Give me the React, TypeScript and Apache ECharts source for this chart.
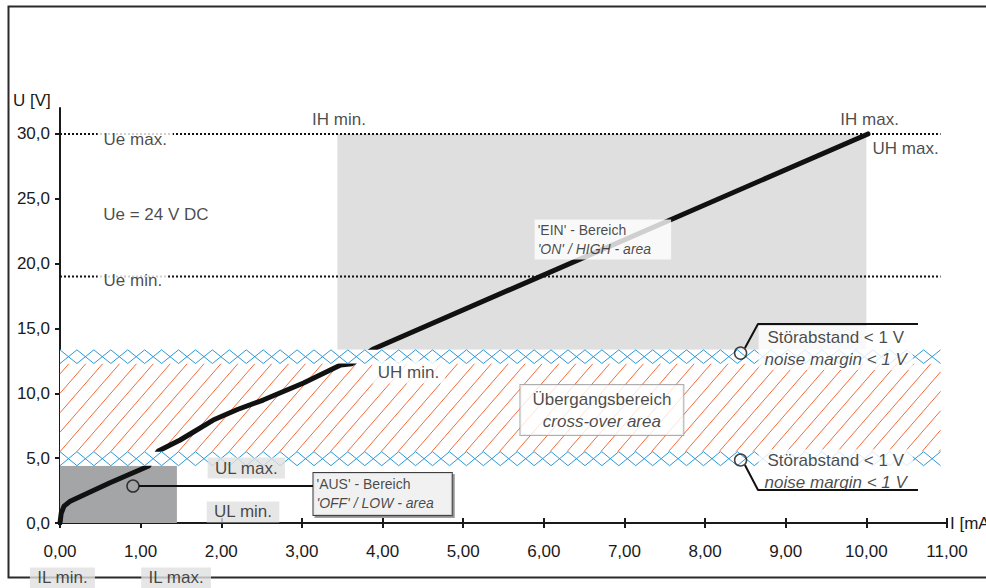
import React, { useEffect, useRef } from 'react';
import * as echarts from 'echarts';

// ---------- data ----------
const xTicks = [0, 1, 2, 3, 4, 5, 6, 7, 8, 9, 10, 11];
const yTicks = [0, 5, 10, 15, 20, 25, 30];

// characteristic curve U(I)
const curveI = [0, 0.015, 0.05, 0.12, 0.62, 1.1, 1.18, 1.22, 1.49, 1.9, 2.2, 2.52, 3.02, 3.48, 3.62, 3.88, 10.02];
const curveU = [0, 0.75, 1.3, 1.65, 3.1, 4.4, 5.2, 5.55, 6.4, 7.94, 8.75, 9.48, 10.79, 12.18, 12.28, 13.4, 30.0];

// regions
const onAreaI = [3.44, 10.0];
const onAreaU = [13.35, 30.0];
const offAreaI = [0, 1.45];
const offAreaU = [0, 4.42];
const bandI = [0, 10.92];
const noiseLowU = [4.42, 5.5];
const crossOverU = [5.5, 12.3];
const noiseHighU = [12.3, 13.35];

// supply voltage limits (Ue max., Ue min.)
const ueLevels = [30, 19];

// annotation markers (circles) and leader lines
const markerI = [0.905, 8.44, 8.44];
const markerU = [2.85, 13.1, 4.86];
const leaderAus = [[0.98, 2.85], [3.137, 2.85]];
const leaderNoiseHigh = [[8.494, 13.49], [8.656, 15.34], [10.64, 15.34]];
const leaderNoiseLow = [[8.494, 4.47], [8.656, 2.54], [10.64, 2.54]];

// text annotations
const notes = [
  { text: 'Ue max.', i: 0.46, u: 29.6, kind: 'whiteLeft' },
  { text: 'Ue = 24 V DC', i: 0.53, u: 23.8, kind: 'plainLeft' },
  { text: 'Ue min.', i: 0.46, u: 18.7, kind: 'whiteLeft' },
  { text: 'IH min.', i: 3.46, u: 31.1, kind: 'plainCenter' },
  { text: 'IH max.', i: 10.04, u: 31.1, kind: 'plainCenter' },
  { text: 'UH max.', i: 10.07, u: 28.9, kind: 'plainLeft' },
  { text: 'UH min.', i: 3.86, u: 11.64, kind: 'whiteLeft' },
  { text: "'EIN' - Bereich\n'ON' / HIGH - area", i: 5.88, u: 21.86, kind: 'onBox' },
  { text: 'Übergangsbereich\ncross-over area', i: 6.72, u: 8.71, kind: 'crossBox' },
  { text: "'AUS' - Bereich\n'OFF' / LOW - area", i: 3.137, u: 2.24, kind: 'offBox' },
  { text: 'Störabstand < 1 V\nnoise margin < 1 V', i: 9.62, u: 13.49, kind: 'noise' },
  { text: 'Störabstand < 1 V\nnoise margin < 1 V', i: 9.62, u: 4.0, kind: 'noise' },
  { text: 'UL max.', i: 2.31, u: 4.24, kind: 'gray' },
  { text: 'UL min.', i: 2.27, u: 0.85, kind: 'gray' },
  { text: 'IL min.', i: 0.03, u: -4.24, kind: 'gray' },
  { text: 'IL max.', i: 1.44, u: -4.24, kind: 'gray' },
];

// ---------- styles ----------
const FONT = "'Liberation Sans', Arial, Helvetica, sans-serif";
const BLUE = '#2b9ad6';
const ORANGE = '#f26b3a';
const INK = '#1a1a1a';
const W = 986;
const H = 588;

function renderRegion(params: any, api: any) {
  const i0 = api.value(0), i1 = api.value(1), u0 = api.value(2), u1 = api.value(3), kind = api.value(4);
  const a = api.coord([i0, u1]);
  const b = api.coord([i1, u0]);
  const x0 = a[0], y0 = a[1], x1 = b[0], y1 = b[1];
  const children: any[] = [];
  if (kind === 2 || kind === 3) {
    children.push({
      type: 'rect',
      shape: { x: x0, y: y0, width: x1 - x0, height: y1 - y0 },
      style: { fill: kind === 2 ? '#dfdfdf' : '#a3a5a7' },
    });
    return { type: 'group', children };
  }
  children.push({
    type: 'rect',
    shape: { x: x0, y: y0, width: x1 - x0, height: y1 - y0 },
    style: { fill: '#ffffff' },
  });
  if (kind === 0) {
    const n = Math.max(1, Math.round((x1 - x0) / 16.9));
    const w = (x1 - x0) / n;
    const pa: number[][] = [];
    const pb: number[][] = [];
    for (let k = 0; k <= n; k++) {
      const x = x0 + k * w;
      pa.push([x, k % 2 ? y1 : y0]);
      pb.push([x, k % 2 ? y0 : y1]);
    }
    children.push({ type: 'polyline', shape: { points: pa }, style: { stroke: BLUE, lineWidth: 1, fill: null } });
    children.push({ type: 'polyline', shape: { points: pb }, style: { stroke: BLUE, lineWidth: 1, fill: null } });
  } else {
    const m = 1.15;
    const s = 16.9;
    const hh = y1 - y0;
    const run = hh / m;
    for (let xb = x0 - Math.ceil(run / s) * s; xb < x1; xb += s) {
      let sx = xb, sy = y1, ex = xb + run, ey = y0;
      if (sx < x0) { sy = y1 - (x0 - xb) * m; sx = x0; }
      if (ex > x1) { ey = y1 - (x1 - xb) * m; ex = x1; }
      if (ex > sx) {
        children.push({
          type: 'line',
          shape: { x1: sx, y1: sy, x2: ex, y2: ey },
          style: { stroke: ORANGE, lineWidth: 1 },
        });
      }
    }
  }
  return { type: 'group', children };
}

function noteLabel(n: { text: string; kind: string }) {
  const lines = n.text.split('\n');
  const base: any = { show: true, fontFamily: FONT, fontSize: 17, color: INK, distance: 0 };
  if (lines.length === 2) {
    const fs = n.kind === 'onBox' || n.kind === 'offBox' ? 14 : 17;
    const lh = fs === 14 ? 19 : 22;
    const al = n.kind === 'crossBox' || n.kind === 'noise' ? 'center' : 'left';
    base.formatter = `{a|${lines[0]}}\n{b|${lines[1]}}`;
    base.rich = {
      a: { fontFamily: FONT, fontSize: fs, lineHeight: lh, color: INK, align: al },
      b: { fontFamily: FONT, fontSize: fs, lineHeight: lh, color: INK, fontStyle: 'italic', align: al },
    };
  } else {
    base.formatter = lines[0];
    base.lineHeight = 19;
  }
  switch (n.kind) {
    case 'whiteLeft':
      return { ...base, position: 'right', backgroundColor: '#fff', padding: [2, 6] };
    case 'plainLeft':
      return { ...base, position: 'right' };
    case 'plainCenter':
      return { ...base, position: 'inside' };
    case 'gray':
      return { ...base, position: 'inside', backgroundColor: '#e0e0e0', padding: [1, 7] };
    case 'onBox':
      return { ...base, position: 'right', backgroundColor: '#fff', padding: [1, 20, 1, 3] };
    case 'offBox':
      return {
        ...base, position: 'right', backgroundColor: '#fff', padding: [2, 18, 2, 3],
        borderColor: '#111', borderWidth: 1, shadowColor: '#8a8a8a', shadowOffsetX: 2, shadowOffsetY: 2, shadowBlur: 0,
      };
    case 'crossBox':
      return { ...base, position: 'inside', backgroundColor: '#fff', padding: [3, 12], borderColor: '#9a9a9a', borderWidth: 1 };
    case 'noise':
      return { ...base, position: 'inside', backgroundColor: '#fff', padding: [0, 6] };
    default:
      return base;
  }
}

const fmt = (d: number) => (v: number) => v.toFixed(d).replace('.', ',');

export default function App() {
  const ref = useRef<HTMLDivElement>(null);

  useEffect(() => {
    if (!ref.current) return;
    document.documentElement.style.overflow = 'hidden';
    document.body.style.margin = '0';
    document.body.style.overflow = 'hidden';
    const chart = echarts.init(ref.current, undefined, { renderer: 'svg', width: W, height: H });

    const tickStyle = { color: INK, width: 2 };
    const series: any[] = [
      {
        type: 'custom', name: 'areas', z: 1, renderItem: renderRegion, encode: { x: [0, 1], y: [2, 3] },
        data: [
          [onAreaI[0], onAreaI[1], onAreaU[0], onAreaU[1], 2],
          [offAreaI[0], offAreaI[1], offAreaU[0], offAreaU[1], 3],
        ],
        silent: true,
      },
      {
        type: 'custom', name: 'crossover', z: 2, renderItem: renderRegion, encode: { x: [0, 1], y: [2, 3] },
        data: [[bandI[0], bandI[1], crossOverU[0], crossOverU[1], 1]],
        silent: true,
      },
      {
        type: 'line', name: 'curve', z: 3, symbol: 'none', smooth: false,
        data: curveI.map((v, k) => [v, curveU[k]]),
        lineStyle: { color: '#111', width: 5, cap: 'round', join: 'round' },
        silent: true,
      },
      {
        type: 'custom', name: 'noise', z: 4, renderItem: renderRegion, encode: { x: [0, 1], y: [2, 3] },
        data: [
          [bandI[0], bandI[1], noiseLowU[0], noiseLowU[1], 0],
          [bandI[0], bandI[1], noiseHighU[0], noiseHighU[1], 0],
        ],
        silent: true,
      },
      ...ueLevels.map((u) => ({
        type: 'line', z: 5, symbol: 'none', silent: true,
        data: [[bandI[0], u], [bandI[1], u]],
        lineStyle: { color: '#111', width: 2, type: [2, 2] },
      })),
      {
        type: 'scatter', name: 'notes', z: 8, symbol: 'circle', symbolSize: 1, clip: false, silent: true,
        itemStyle: { color: 'rgba(0,0,0,0)' },
        data: notes.map((n) => ({ value: [n.i, n.u], label: noteLabel(n) })),
      },
      ...[leaderAus, leaderNoiseHigh, leaderNoiseLow].map((d) => ({
        type: 'line', z: 9, symbol: 'none', silent: true, data: d,
        lineStyle: { color: '#111', width: 2 },
      })),
      {
        type: 'scatter', name: 'markers', z: 9, symbol: 'circle', symbolSize: 12, clip: false, silent: true,
        itemStyle: { color: 'rgba(0,0,0,0)', borderColor: '#111', borderWidth: 1.5 },
        data: markerI.map((v, k) => [v, markerU[k]]),
      },
    ];

    chart.setOption({
      animation: false,
      backgroundColor: '#ffffff',
      textStyle: { fontFamily: FONT },
      grid: { left: 60, right: 39, top: 108, bottom: 65, containLabel: false, outerBoundsMode: 'none' },
      xAxis: [
        {
          type: 'value', min: 0, max: 11, interval: 1, position: 'bottom',
          name: 'I [mA]', nameLocation: 'end', nameGap: 3,
          nameTextStyle: { fontSize: 17, color: INK, fontFamily: FONT, padding: [12, 0, 0, 0] },
          axisLine: { show: true, onZero: false, lineStyle: tickStyle },
          axisTick: { show: true, inside: false, length: 5, lineStyle: tickStyle, customValues: xTicks },
          axisLabel: { fontSize: 17, color: INK, fontFamily: FONT, margin: 20, formatter: fmt(2), customValues: xTicks },
          splitLine: { show: false },
        },
        {
          type: 'value', min: 0, max: 11, interval: 1, position: 'bottom', offset: 0,
          axisLine: { show: false, onZero: false },
          axisTick: { show: true, inside: true, length: 5, lineStyle: tickStyle, customValues: xTicks },
          axisLabel: { show: false },
          splitLine: { show: false },
        },
      ],
      yAxis: {
        type: 'value', min: 0, max: 32, interval: 5,
        axisLine: { show: true, onZero: false, lineStyle: tickStyle },
        axisTick: { show: true, inside: false, length: 5, lineStyle: tickStyle, customValues: yTicks },
        axisLabel: { fontSize: 17, color: INK, fontFamily: FONT, margin: 10, formatter: fmt(1), customValues: yTicks },
        splitLine: { show: false },
      },
      graphic: [
        {
          type: 'polyline', z: 0, silent: true,
          shape: { points: [[986, 6.5], [8.5, 6.5], [8.5, 577.5], [986, 577.5]] },
          style: { fill: null, stroke: '#2a2a2a', lineWidth: 2 },
        },
        {
          type: 'text', z: 10, x: 13, y: 92, silent: true,
          style: { text: 'U [V]', fontSize: 17, fontFamily: FONT, fill: INK, verticalAlign: 'top' },
        },
      ],
      series,
    });

    return () => chart.dispose();
  }, []);

  return (
    <div
      ref={ref}
      style={{ position: 'absolute', left: 0, top: 0, width: W, height: H, background: '#fff', overflow: 'hidden' }}
    />
  );
}
